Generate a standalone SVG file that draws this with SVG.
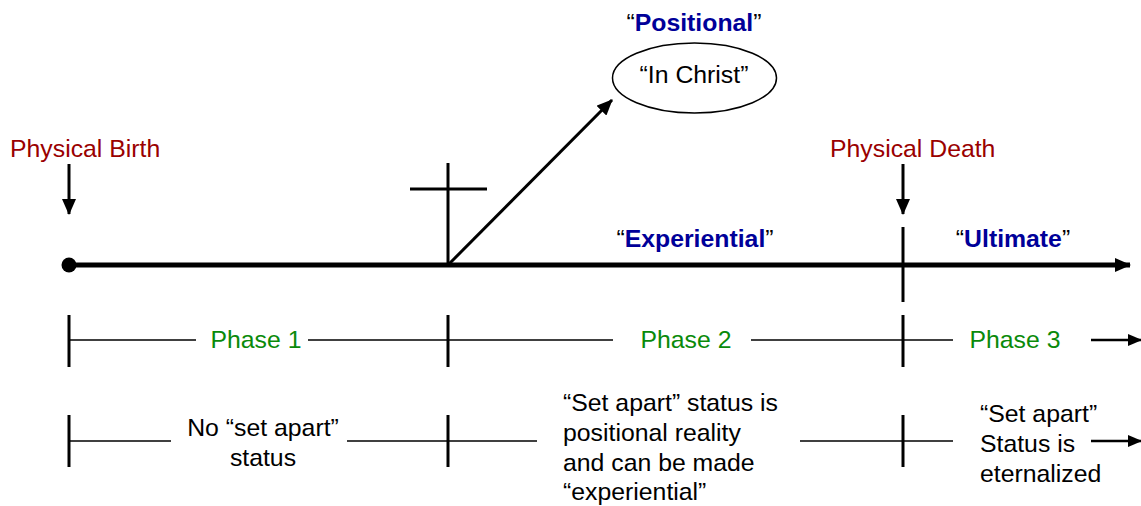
<svg xmlns="http://www.w3.org/2000/svg" width="1141" height="506" viewBox="0 0 1141 506">
<style>
text{font-family:"Liberation Sans",Arial,sans-serif;font-size:24.8px;fill:#000}
.red{fill:#9a0000}
.grn{fill:#0a8a0a}
.blue{fill:#000099;font-weight:bold}
.thin{stroke:#000;stroke-width:1.5;fill:none}
.tick{stroke:#000;stroke-width:3;fill:none}
.mid{stroke:#000;stroke-width:3;fill:none}
</style>
<defs>
<marker id="ah" viewBox="0 0 16 14" refX="15" refY="7" markerWidth="16" markerHeight="14" markerUnits="userSpaceOnUse" orient="auto"><path d="M0,0 L16,7 L0,14 z" fill="#000"/></marker>
<marker id="ahs" viewBox="0 0 14 12" refX="13" refY="6" markerWidth="14" markerHeight="12" markerUnits="userSpaceOnUse" orient="auto"><path d="M0,0 L14,6 L0,12 z" fill="#000"/></marker>
</defs>
<g id="connectors">
<line x1="69" y1="265" x2="1130" y2="265" stroke="#000" stroke-width="5" marker-end="url(#ah)"/>
<circle cx="69" cy="265" r="7.5" fill="#000"/>
<line class="mid" x1="69" y1="164" x2="69" y2="214" marker-end="url(#ah)"/>
<line class="mid" x1="903" y1="164" x2="903" y2="214" marker-end="url(#ah)"/>
<line class="mid" x1="903" y1="227" x2="903" y2="302"/>
<line class="mid" x1="448" y1="163" x2="448" y2="265"/>
<line class="mid" x1="410" y1="189" x2="487" y2="189"/>
<line class="mid" x1="448" y1="265" x2="612" y2="100" marker-end="url(#ah)"/>
<line class="tick" x1="69" y1="315" x2="69" y2="367"/>
<line class="tick" x1="448" y1="315" x2="448" y2="367"/>
<line class="tick" x1="903" y1="315" x2="903" y2="367"/>
<line class="thin" x1="69" y1="340" x2="196" y2="340"/>
<line class="thin" x1="308" y1="340" x2="613" y2="340"/>
<line class="thin" x1="751" y1="340" x2="953" y2="340"/>
<line x1="1091" y1="340" x2="1141" y2="340" stroke="#000" stroke-width="2.5" marker-end="url(#ahs)"/>
<line class="tick" x1="69" y1="415" x2="69" y2="467"/>
<line class="tick" x1="448" y1="415" x2="448" y2="467"/>
<line class="tick" x1="903" y1="415" x2="903" y2="467"/>
<line class="thin" x1="69" y1="441" x2="171" y2="441"/>
<line class="thin" x1="347" y1="441" x2="537" y2="441"/>
<line class="thin" x1="800" y1="441" x2="953" y2="441"/>
<line x1="1091" y1="441" x2="1141" y2="441" stroke="#000" stroke-width="2.5" marker-end="url(#ahs)"/>
</g>
<g id="physical-birth"><text class="red" x="10" y="157">Physical Birth</text></g>
<g id="physical-death"><text class="red" x="830" y="157">Physical Death</text></g>
<g id="positional"><text x="694" y="31" text-anchor="middle">“<tspan class="blue">Positional</tspan>”</text></g>
<g id="in-christ">
<ellipse cx="694.5" cy="78" rx="82" ry="35" fill="#fff" stroke="#000" stroke-width="1.5"/>
<text x="694" y="83" text-anchor="middle">“In Christ”</text>
</g>
<g id="experiential"><text x="695" y="247" text-anchor="middle">“<tspan class="blue">Experiential</tspan>”</text></g>
<g id="ultimate"><text x="1013" y="247" text-anchor="middle">“<tspan class="blue">Ultimate</tspan>”</text></g>
<g id="phase1"><text class="grn" x="256" y="348" text-anchor="middle">Phase 1</text></g>
<g id="phase2"><text class="grn" x="686" y="348" text-anchor="middle">Phase 2</text></g>
<g id="phase3"><text class="grn" x="1015" y="348" text-anchor="middle">Phase 3</text></g>
<g id="desc1"><text x="263" y="436" text-anchor="middle">No “set apart”<tspan x="263" y="466">status</tspan></text></g>
<g id="desc2"><text x="563" y="411">“Set apart” status is<tspan x="563" y="441">positional reality</tspan><tspan x="563" y="471">and can be made</tspan><tspan x="563" y="500">“experiential”</tspan></text></g>
<g id="desc3"><text x="980" y="422">“Set apart”<tspan x="980" y="452">Status is</tspan><tspan x="980" y="482">eternalized</tspan></text></g>
</svg>
